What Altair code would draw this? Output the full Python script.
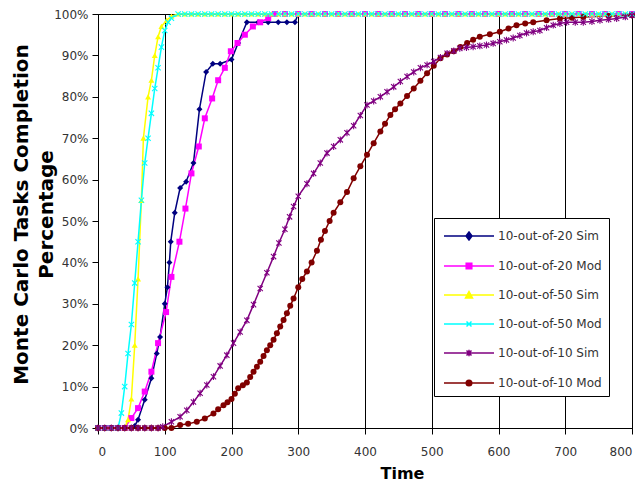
import altair as alt
import pandas as pd

SERIES = ["10-out-of-20 Sim", "10-out-of-20 Mod", "10-out-of-50 Sim",
          "10-out-of-50 Mod", "10-out-of-10 Sim", "10-out-of-10 Mod"]
COLORS = ["#000080", "#FF00FF", "#FFFF00", "#00FFFF", "#800080", "#800000"]

X_TICKS = [0, 100, 200, 300, 400, 500, 600, 700, 800]
Y_TICKS = [0, 10, 20, 30, 40, 50, 60, 70, 80, 90, 100]

TAIL_10 = [130, 140, 150, 160, 170, 180, 190, 200, 210, 220, 230, 240, 250, 260,
           270, 280, 290, 300, 310, 320, 330, 340, 350, 360, 370, 380, 390, 400,
           410, 420, 430, 440, 450, 460, 470, 480, 490, 500, 510, 520, 530, 540,
           550, 560, 570, 580, 590, 600, 610, 620, 630, 640, 650, 660, 670, 680,
           690, 700, 710, 720, 730, 740, 750, 760, 770, 780, 790, 800]
TAIL_10_V = [100] * len(TAIL_10)

# 10-out-of-20 Sim
T_20_SIM = [0, 10, 20, 30, 40, 50, 55, 60, 70, 80, 88, 93, 100, 104, 107, 109, 115,
            123, 132, 143, 152, 162, 172, 183, 200, 210, 223, 240, 255, 270, 283,
            295, 300, 320, 340, 360, 380, 400, 420, 440, 460, 480, 500, 520, 540,
            560, 580, 600, 620, 640, 660, 680, 700, 720, 740, 760, 780, 800]
V_20_SIM = [0, 0, 0, 0, 0, 0, 0.5, 2, 6.8, 12, 18, 22, 30, 34, 40, 45, 52,
            58, 59.5, 64, 77, 86, 88, 88, 89, 93, 98, 98, 98, 98, 98,
            98, 100, 100, 100, 100, 100, 100, 100, 100, 100, 100, 100, 100, 100,
            100, 100, 100, 100, 100, 100, 100, 100, 100, 100, 100, 100, 100]

# 10-out-of-20 Mod
T_20_MOD = [0, 10, 20, 30, 40, 50, 60, 70, 80, 90, 102, 110, 122, 131, 140, 151,
            160, 171, 180, 190, 199, 209, 220, 232, 243, 255, 265, 280, 300, 320,
            340, 360, 380, 400, 420, 440, 460, 480, 500, 520, 540, 560, 580, 600,
            620, 640, 660, 680, 700, 720, 740, 760, 780, 800]
V_20_MOD = [0, 0, 0, 0, 0, 2.4, 4.8, 8.8, 13.6, 20.5, 28, 36.5, 45, 53, 61.5, 68,
            74.8, 79.6, 84, 87, 91, 93, 95, 97, 98, 99, 100, 100, 100, 100,
            100, 100, 100, 100, 100, 100, 100, 100, 100, 100, 100, 100, 100, 100,
            100, 100, 100, 100, 100, 100, 100, 100, 100, 100]

# 10-out-of-50 Sim
T_50_SIM = [0, 10, 20, 30, 40, 45, 50, 55, 60, 65, 68, 75, 80, 85, 90, 95, 103,
            110, 120] + TAIL_10
V_50_SIM = [0, 0, 0, 0, 0, 2, 7, 20, 36, 55, 70, 80, 84, 90, 94.5, 97, 98.5,
            99.5, 100] + TAIL_10_V

# 10-out-of-50 Mod
T_50_MOD = [0, 10, 20, 30, 35, 40, 45, 50, 55, 60, 65, 70, 75, 80, 85, 90, 95,
            100, 105, 110, 120] + TAIL_10
V_50_MOD = [0, 0, 0, 0, 3.6, 10, 18, 25, 35, 45, 55, 64, 70, 76, 82, 87, 92,
            96, 98, 99, 100] + TAIL_10_V

# 10-out-of-10 Sim
T_10_SIM = [0, 10, 20, 30, 40, 50, 60, 70, 80, 90, 97, 110, 123, 133, 143, 153,
            163, 173, 183, 193, 203, 213, 223, 233, 243, 253, 263, 271, 280, 287,
            293, 300, 313, 323, 333, 343, 353, 363, 373, 383, 393, 403, 413, 423,
            433, 443, 453, 463, 473, 483, 493, 503, 513, 523, 533, 542, 552, 562,
            572, 582, 592, 602, 612, 622, 632, 642, 652, 662, 672, 682, 692, 702,
            715, 727, 740, 752, 765, 777, 790, 800]
V_10_SIM = [0, 0, 0, 0, 0, 0, 0, 0, 0, 0, 0.3, 1.5, 2.7, 4.3, 6.3, 8.4,
            10.4, 12.4, 15, 17.6, 20.5, 23.2, 26, 29.8, 33.7, 37.5, 41.4, 44.7, 48, 51,
            53.5, 56, 59, 61.5, 64, 66.4, 68, 69.6, 71.3, 73, 75.5, 78, 79, 80,
            81.2, 82.4, 83.7, 84.9, 86, 87, 87.7, 88.5, 89.5, 90.5, 91.1, 91.7, 91.9, 92.1,
            92.3, 92.5, 92.9, 93.3, 93.7, 94.2, 94.8, 95.4, 95.7, 96, 96.7, 97.3, 97.7, 98,
            98, 98, 98.2, 98.5, 98.7, 98.9, 99.3, 99.7]

# 10-out-of-10 Mod
T_10_MOD = [0, 10, 20, 30, 40, 50, 60, 70, 80, 90, 100, 110, 123, 135, 148, 160,
            173, 180, 188, 194, 200, 205, 210, 217, 223, 228, 233, 238, 243, 248,
            253, 258, 263, 268, 273, 278, 283, 288, 293, 300, 306, 313, 320, 328,
            334, 340, 347, 353, 363, 373, 383, 393, 403, 413, 423, 430, 438, 445,
            453, 463, 473, 483, 493, 503, 513, 523, 533, 543, 553, 562, 572, 587,
            602, 615, 627, 640, 652, 672, 692, 710, 727, 765, 800]
V_10_MOD = [0, 0, 0, 0, 0, 0, 0, 0, 0, 0, 0, 0, 0.7, 1, 1.5, 2.3,
            3.5, 4.5, 5.5, 6.2, 7, 8.3, 9.6, 10.3, 11, 12.3, 13.6, 14.8, 16, 17.4,
            18.8, 20, 21.3, 22.9, 24.5, 26.1, 27.7, 29.5, 31.3, 34, 36, 37.8, 40, 42.8,
            45.5, 47.6, 50, 52, 54.5, 57, 60.3, 63.2, 66, 68.8, 71.6, 73.5, 75.6, 77,
            78.4, 80.2, 82, 83.9, 85.7, 87.5, 89.3, 90.2, 91, 92, 93, 93.8, 94.5, 95.1,
            95.7, 96.5, 97.3, 97.7, 98, 98.5, 98.9, 99.1, 99.3, 99.5, 99.7]

TIMES = [T_20_SIM, T_20_MOD, T_50_SIM, T_50_MOD, T_10_SIM, T_10_MOD]
VALUES = [V_20_SIM, V_20_MOD, V_50_SIM, V_50_MOD, V_10_SIM, V_10_MOD]

rows = []
for name, ts, vs in zip(SERIES, TIMES, VALUES):
    for t, v in zip(ts, vs):
        rows.append({"series": name, "t": t, "v": v})
df = pd.DataFrame(rows)

PLOT_SHAPES = [
    "diamond",
    "square",
    "triangle-up",
    "M-1,-1L1,1M1,-1L-1,1",
    "M-1,-1L1,1M1,-1L-1,1M0,-1.3L0,1.3",
    "circle",
]
LEGEND_SHAPES = [
    "M-2.5,0H2.5M0,-0.4L0.3,0L0,0.4L-0.3,0Z",
    "M-2.5,0H2.5M-0.28,-0.28H0.28V0.28H-0.28Z",
    "M-2.5,0H2.5M0,-0.35L0.35,0.3H-0.35Z",
    "M-2.5,0H2.5M-0.25,-0.25L0.25,0.25M0.25,-0.25L-0.25,0.25",
    "M-2.5,0H2.5M-0.25,-0.25L0.25,0.25M0.25,-0.25L-0.25,0.25M0,-0.32V0.32",
    "M-2.5,0H2.5M-0.28,0A0.28,0.28 0 1,0 0.28,0A0.28,0.28 0 1,0 -0.28,0Z",
]
FILLED = [SERIES[0], SERIES[1], SERIES[2], SERIES[5]]
STROKED = [SERIES[3], SERIES[4]]

x_enc = alt.X("t:Q", scale=alt.Scale(domain=[0, 800], nice=False),
              axis=alt.Axis(values=X_TICKS, grid=True, gridColor="black",
                            gridOpacity=1, gridWidth=1, title="Time",
                            titleX=304, titleY=45, titleBaseline="middle",
                            titleFont="DejaVu Sans", titleFontSize=16,
                            titleFontWeight="bold", titleColor="black",
                            labelFont="DejaVu Sans", labelFontSize=12,
                            labelColor="#333333", labelPadding=12,
                            tickSize=6, tickColor="black", domainColor="black"))
y_enc = alt.Y("v:Q", scale=alt.Scale(domain=[0, 100], nice=False),
              axis=alt.Axis(values=Y_TICKS, grid=False,
                            labelExpr="datum.value + '%'",
                            title=["Monte Carlo Tasks Completion", "Percentage"],
                            titleX=-87, titleY=200, titleAngle=270,
                            titleAlign="center", titleBaseline="top",
                            titleLineHeight=25,
                            titleFont="DejaVu Sans", titleFontSize=20,
                            titleFontWeight="bold", titleColor="black",
                            labelFont="DejaVu Sans", labelFontSize=12,
                            labelColor="#333333", labelPadding=4,
                            tickSize=6, tickColor="black", domainColor="black"))
color_enc = alt.Color("series:N", scale=alt.Scale(domain=SERIES, range=COLORS),
                      legend=None)
shape_enc = alt.Shape("series:N", scale=alt.Scale(domain=SERIES, range=PLOT_SHAPES),
                      legend=None)

base = alt.Chart(df)

lines = base.mark_line(strokeWidth=1.5).encode(
    x=x_enc, y=y_enc, color=color_enc, detail="series:N")

pts_filled = base.transform_filter(
    alt.FieldOneOfPredicate(field="series", oneOf=FILLED)
).mark_point(filled=True, opacity=1, size=36).encode(
    x=x_enc, y=y_enc, color=color_enc, shape=shape_enc)

pts_stroked = base.transform_filter(
    alt.FieldOneOfPredicate(field="series", oneOf=STROKED)
).mark_point(filled=False, opacity=1, size=28, strokeWidth=1.1).encode(
    x=x_enc, y=y_enc, color=color_enc, shape=shape_enc)

leg = alt.Legend(title=None, orient="none", legendX=336, legendY=204,
                 symbolSize=400, symbolStrokeWidth=1.5, symbolOffset=17,
                 labelOffset=18, labelFont="DejaVu Sans", labelFontSize=12,
                 labelColor="#333333", padding=7, rowPadding=12,
                 strokeColor="black", fillColor="white", symbolOpacity=1)

leg_df = pd.DataFrame({"lg": SERIES, "t": [-50] * 6, "v": [50] * 6})
legend_layer = alt.Chart(leg_df).mark_point(filled=True, opacity=1, clip=True).encode(
    x="t:Q", y="v:Q",
    fill=alt.Fill("lg:N", scale=alt.Scale(domain=SERIES, range=COLORS), legend=leg),
    stroke=alt.Stroke("lg:N", scale=alt.Scale(domain=SERIES, range=COLORS), legend=leg),
    shape=alt.Shape("lg:N", scale=alt.Scale(domain=SERIES, range=LEGEND_SHAPES), legend=leg),
)

chart = alt.layer(lines, pts_filled, pts_stroked, legend_layer).resolve_scale(
    shape="independent", fill="independent", stroke="independent"
).properties(
    width=534, height=414,
    autosize=alt.AutoSizeParams(type="none"),
    padding={"left": 90, "top": 6, "right": 4, "bottom": 56},
    background="white",
).configure_view(stroke="black", strokeWidth=1)

chart.save("out.html", embed_options={"renderer": "svg", "actions": False})
